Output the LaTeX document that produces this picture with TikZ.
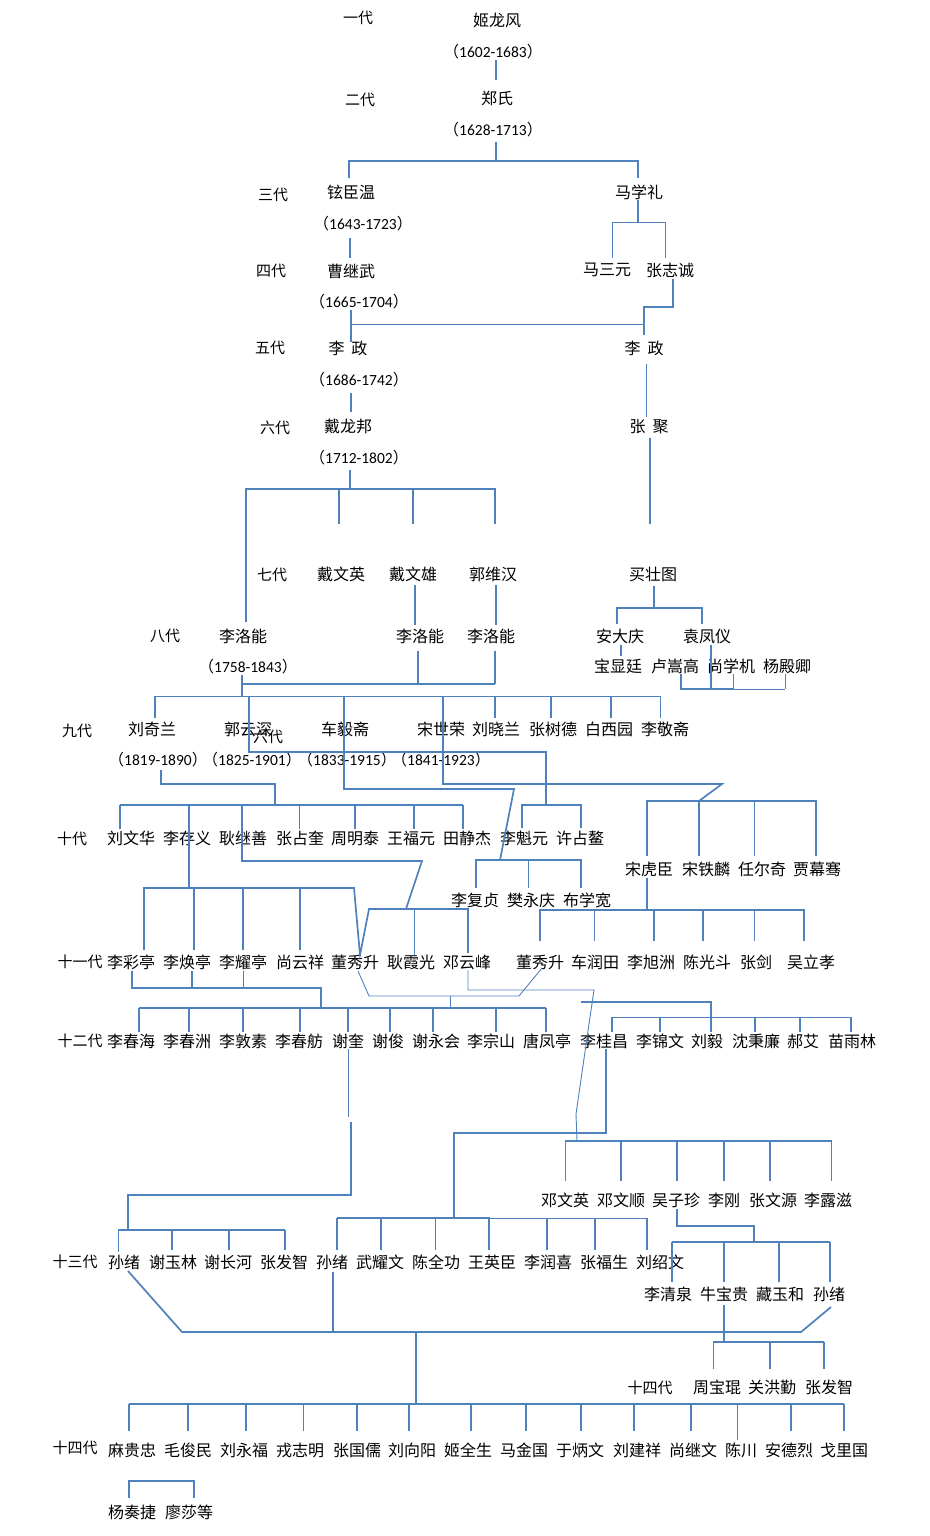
\documentclass[tikz,border=0pt]{standalone}
\usepackage{fontspec}
\setmainfont{Carlito}
\newfontfamily\cjk{Noto Sans CJK SC}
\usetikzlibrary{positioning}
\definecolor{lnblue}{HTML}{4F81BD}
\newcommand{\yrs}[1]{{\cjk （}#1{\cjk ）}}
\tikzset{
  nm/.style={inner sep=0pt, font=\cjk\fontsize{16}{19}\selectfont},
  gen/.style={inner sep=0pt, font=\cjk\fontsize{15}{18}\selectfont},
  yr/.style={inner sep=0pt, font=\fontsize{15.5}{18}\selectfont},
  ln/.style={lnblue, line width=1.7pt},
  tn/.style={lnblue, line width=0.9pt},
}
\begin{document}
\begin{tikzpicture}[x=1pt, y=-1pt]
\useasboundingbox (0,0) rectangle (929,1536);

% 1. generations
\foreach \x/\y/\t/\n in {358/18/一代/g1, 360/100/二代/g2, 273/195/三代/g3,
    271/271/四代/g4, 270/348/五代/g5, 275/428/六代/g6, 272/575/七代/g7,
    165/636/八代/g8, 77/731/九代/g9, 268/737/六代/g6b, 72/839/十代/g10,
    80/962/十一代/g11, 80/1041/十二代/g12, 75/1262/十三代/g13,
    75/1448/十四代/g14, 650/1388/十四代/g14b}
  \node[gen] (\n) at (\x,\y) {\t};

% 2. top of the tree
\node[nm] (jilf) at (497,20) {姬龙风};
\node[yr] (jilfy) at (493,52) {\yrs{1602-1683}};
\node[nm] (zhengs) at (497,98) {郑氏};
\node[yr] (zhengsy) at (493,130) {\yrs{1628-1713}};
\node[nm] (xuancw) at (351,192) {铉臣温};
\node[yr] (xuancwy) at (363,224) {\yrs{1643-1723}};
\node[nm] (maxl) at (639,192) {马学礼};
\node[nm] (masy) at (607,270) {马三元};
\node[nm] (zhangzc) at (670,270) {张志诚};
\node[nm] (caojw) at (351,271) {曹继武};
\node[yr] (caojwy) at (359,302) {\yrs{1665-1704}};
\node[nm] (lizl) at (348,348) {李\hspace{7pt}政};
\node[yr] (lizly) at (359,380) {\yrs{1686-1742}};
\node[nm] (lizr) at (644,348) {李\hspace{7pt}政};
\node[nm] (zhangj) at (649,427) {张\hspace{7pt}聚};
\node[nm] (dailb) at (348,426) {戴龙邦};
\node[yr] (dailby) at (359,458) {\yrs{1712-1802}};

% 3. seventh and eighth
\node[nm] (daiwy) at (341,574) {戴文英};
\node[nm] (daiwx) at (413,574) {戴文雄};
\node[nm] (guowh) at (493,574) {郭维汉};
\node[nm] (maizt) at (653,574) {买壮图};
\node[nm] (lilna) at (243,636) {李洛能};
\node[yr] (lilnay) at (248,667) {\yrs{1758-1843}};
\node[nm] (lilnb) at (420,636) {李洛能};
\node[nm] (lilnc) at (491,636) {李洛能};
\node[nm] (andq) at (620,636) {安大庆};
\node[nm] (yuanfy) at (707,636) {袁凤仪};
\foreach \x/\t/\n in {618/宝显廷/baoxt, 675/卢嵩高/lusg, 731/尚学机/shangxj, 787/杨殿卿/yangdq}
  \node[nm] (\n) at (\x,666) {\t};

% 4. ninth
\foreach \x/\t/\n in {152/刘奇兰/liuql, 248/郭云深/guoys, 345/车毅斋/cheyz, 441/宋世荣/songsr,
    496/刘晓兰/liuxl, 553/张树德/zhangsd, 609/白西园/baixy, 665/李敬斋/lijz}
  \node[nm] (\n) at (\x,729) {\t};
\foreach \x/\t/\n in {158/1819-1890/liuqly, 252/1825-1901/guoysy, 347/1833-1915/cheyzy, 441/1841-1923/songsry}
  \node[yr] (\n) at (\x,760) {\yrs{\t}};

% 5. tenth
\foreach \x/\t/\n in {131/刘文华/liuwh, 187/李存义/licy, 243/耿继善/gengjs, 300/张占奎/zhangzk,
    355/周明泰/zhoumt, 411/王福元/wangfy, 467/田静杰/tianjj, 524/李魁元/likyu, 580/许占鳌/xuza}
  \node[nm] (\n) at (\x,838) {\t};
\foreach \x/\t/\n in {649/宋虎臣/songhc, 706/宋铁麟/songtl, 762/任尔奇/renerq, 817/贾幕骞/jiamq}
  \node[nm] (\n) at (\x,869) {\t};
\foreach \x/\t/\n in {475/李复贞/lifz, 531/樊永庆/fanyq, 587/布学宽/buxk}
  \node[nm] (\n) at (\x,900) {\t};

% 6. eleventh
\foreach \x/\t/\n in {131/李彩亭/lict, 187/李焕亭/liht, 243/李耀亭/liyt, 300/尚云祥/shangyx,
    355/董秀升/dongxsa, 411/耿霞光/gengxg, 467/邓云峰/dengyf, 540/董秀升/dongxsb,
    595/车润田/cherd, 651/李旭洲/lixz, 707/陈光斗/chengd, 756/张剑/zhangjn, 811/吴立孝/wulx}
  \node[nm] (\n) at (\x,962) {\t};

% 7. twelfth
\foreach \x/\t/\n in {131/李春海/lich, 187/李春洲/licz, 243/李敦素/lids, 299/李春舫/licf,
    348/谢奎/xiek, 388/谢俊/xiej, 436/谢永会/xieyh, 491/李宗山/lizs, 547/唐凤亭/tangft,
    604/李桂昌/ligc, 660/李锦文/lijw, 707/刘毅/liuy, 756/沈秉廉/shenbl, 803/郝艾/haoa, 852/苗雨林/miaoyl}
  \node[nm] (\n) at (\x,1041) {\t};
\foreach \x/\t/\n in {565/邓文英/dengwy, 621/邓文顺/dengws, 676/吴子珍/wuzz, 724/李刚/lig,
    773/张文源/zhangwy, 828/李露滋/lilz}
  \node[nm] (\n) at (\x,1200) {\t};

% 8. thirteenth
\foreach \x/\t/\n in {124/孙绪/sunxa, 173/谢玉林/xieyl, 228/谢长河/xiech, 284/张发智/zhangfza,
    332/孙绪/sunxb, 380/武耀文/wuyw, 436/陈全功/chenqg, 492/王英臣/wangyc, 548/李润喜/lirx,
    604/张福生/zhangfs, 660/刘绍文/liusw}
  \node[nm] (\n) at (\x,1262) {\t};
\foreach \x/\t/\n in {668/李清泉/liqq, 724/牛宝贵/niubg, 780/藏玉和/zangyh, 829/孙绪/sunxc}
  \node[nm] (\n) at (\x,1294) {\t};
\foreach \x/\t/\n in {717/周宝琨/zhoubk, 772/关洪勤/guanhq, 829/张发智/zhangfzb}
  \node[nm] (\n) at (\x,1387) {\t};

% 9. fourteenth
\foreach \x/\t/\n in {132/麻贵忠/magz, 188/毛俊民/maojm, 244/刘永福/liuyf, 300/戎志明/rongzm,
    357/张国儒/zhanggr, 412/刘向阳/liuxy, 468/姬全生/jiqs, 524/马金国/majg, 580/于炳文/yubw,
    637/刘建祥/liujx, 693/尚继文/shangjw, 741/陈川/chenc, 789/安德烈/andl, 844/戈里国/gelg}
  \node[nm] (\n) at (\x,1450) {\t};
\node[nm] (yangzj) at (132,1512) {杨奏捷};
\node[nm] (liaosd) at (189,1512) {廖莎等};

% 10. lines, top part
\draw[ln] (496,60) -- (496,80);
\draw[ln] (496,142) -- (496,161);
\draw[ln] (349,178) -- (349,161) -- (638,161) -- (638,178);
\draw[ln] (350,238) -- (350,258);
\draw[ln] (638,200) -- (638,222);
\draw[tn] (612,258) -- (612,222) -- (665,222) -- (665,258);
\draw[ln] (673,279) -- (673,307) -- (644,307) -- (644,335);
\draw[ln] (351,310) -- (351,342);
\draw[tn] (351,324) -- (644,324);
\draw[tn] (646,364) -- (646,417);
\draw[ln] (650,438) -- (650,524);
\draw[ln] (351,393) -- (351,412);
\draw[ln] (350,470) -- (350,489);
\draw[ln] (246,622) -- (246,489) -- (495,489) -- (495,524);
\foreach \x in {339,413} \draw[ln] (\x,489) -- (\x,524);
\draw[ln] (415,585) -- (415,625);
\draw[ln] (496,585) -- (496,625);
\draw[ln] (654,586) -- (654,608);
\draw[ln] (617,624) -- (617,608) -- (702,608) -- (702,624);
\draw[ln] (621,645) -- (621,656);
\draw[ln] (711,645) -- (711,689);
\draw[ln] (681,674) -- (681,689) -- (733,689);
\draw[tn] (733,689) -- (785,689);
\foreach \x in {733,785} \draw[tn] (\x,674) -- (\x,689);

% 11. eighth to tenth
\draw[ln] (418,651) -- (418,684);
\draw[ln] (495,651) -- (495,684);
\draw[ln] (242,684) -- (495,684);
\draw[ln] (242,675) -- (242,696);
\draw[tn] (155,696) -- (660,696);
\foreach \x in {155,495,551,611} \draw[ln] (\x,696) -- (\x,718);
\draw[tn] (660,696) -- (660,718);
\draw[ln] (249,696) -- (249,752) -- (546,752) -- (546,805);
\draw[ln] (522,828) -- (522,805) -- (581,805) -- (581,828);
\draw[ln] (161,770) -- (161,784) -- (275,784) -- (275,805);
\draw[ln] (120,805) -- (463,805);
\foreach \x in {120,355,414,463} \draw[ln] (\x,805) -- (\x,829);
\draw[tn] (299,805) -- (299,829);
\draw[ln] (189,805) -- (189,888);
\draw[ln] (242,805) -- (242,861) -- (422,861) -- (406,909);
\draw[ln] (344,696) -- (344,789) -- (514,789) -- (500,860);
\draw[ln] (476,888) -- (476,860) -- (581,860) -- (581,888);
\draw[tn] (528,860) -- (528,888);
\draw[ln] (443,696) -- (443,784) -- (722,784) -- (699,801);
\draw[ln] (647,856) -- (647,801) -- (816,801) -- (816,856);
\draw[ln] (699,801) -- (699,856);
\draw[tn] (754,801) -- (754,856);
\draw[ln] (647,878) -- (647,910);
\draw[ln] (540,941) -- (540,910) -- (804,910) -- (804,941);
\foreach \x in {654,703} \draw[ln] (\x,910) -- (\x,941);
\foreach \x in {594,754} \draw[tn] (\x,910) -- (\x,941);

% 12. eleventh and twelfth
\draw[ln] (144,950) -- (144,888) -- (354,888) -- (360,955) -- (369,909) -- (468,909) -- (468,953);
\foreach \x in {194,243,300} \draw[ln] (\x,888) -- (\x,950);
\draw[tn] (414,909) -- (414,955);
\draw[ln] (132,971) -- (132,988) -- (321,988) -- (321,1008);
\draw[ln] (192,971) -- (192,988);
\draw[tn] (243,971) -- (243,988);
\draw[ln] (139,1008) -- (546,1008);
\foreach \x in {139,189,243,300,348,390,433,496,546} \draw[ln] (\x,1008) -- (\x,1032);
\draw[tn] (358,971) -- (369,996) -- (519,996) -- (542,968);
\draw[tn] (450,996) -- (450,1008);
\draw[tn] (468,970) -- (468,990) -- (594,990) -- (589,1024) -- (576,1114) -- (577,1141);
\draw[ln] (581,1002) -- (711,1002) -- (711,1017);
\draw[tn] (612,1017) -- (851,1017);
\foreach \x in {612,660,711,755,800,851} \draw[ln] (\x,1017) -- (\x,1032);

% 13. twelfth to fourteenth
\draw[ln] (606,1049) -- (606,1133) -- (454,1133) -- (454,1218);
\draw[ln] (565,1141) -- (832,1141);
\foreach \x in {621,677,724,770} \draw[ln] (\x,1141) -- (\x,1181);
\foreach \x in {565,831} \draw[tn] (\x,1141) -- (\x,1181);
\draw[tn] (348,1049) -- (348,1117);
\draw[ln] (351,1122) -- (351,1195) -- (128,1195) -- (128,1230);
\draw[ln] (118,1230) -- (285,1230);
\foreach \x in {172,229,285} \draw[ln] (\x,1230) -- (\x,1250);
\draw[tn] (118,1230) -- (118,1252);
\draw[ln] (337,1218) -- (490,1218);
\draw[tn] (490,1218) -- (647,1218);
\foreach \x in {337,381,489,547,595,647} \draw[ln] (\x,1218) -- (\x,1250);
\draw[tn] (435,1218) -- (435,1250);
\draw[ln] (677,1209) -- (677,1226) -- (754,1226) -- (754,1242);
\draw[ln] (672,1242) -- (830,1242);
\foreach \x in {672,724,779,830} \draw[ln] (\x,1242) -- (\x,1282);
\draw[ln] (128,1271) -- (182,1332) -- (801,1332) -- (831,1307);
\draw[ln] (333,1272) -- (333,1332);
\draw[ln] (416,1332) -- (416,1404);
\draw[ln] (724,1305) -- (724,1342);
\draw[ln] (713,1342) -- (824,1342);
\draw[tn] (713,1342) -- (713,1369);
\foreach \x in {770,824} \draw[ln] (\x,1342) -- (\x,1369);
\draw[ln] (129,1404) -- (844,1404);
\foreach \x in {129,188,246,357,409,471,526,581,634,691,791,844} \draw[ln] (\x,1404) -- (\x,1431);
\draw[tn] (303,1404) -- (303,1431);
\draw[tn] (737,1404) -- (737,1440);
\draw[ln] (129,1498) -- (129,1481) -- (194,1481) -- (194,1498);
\end{tikzpicture}
\end{document}
